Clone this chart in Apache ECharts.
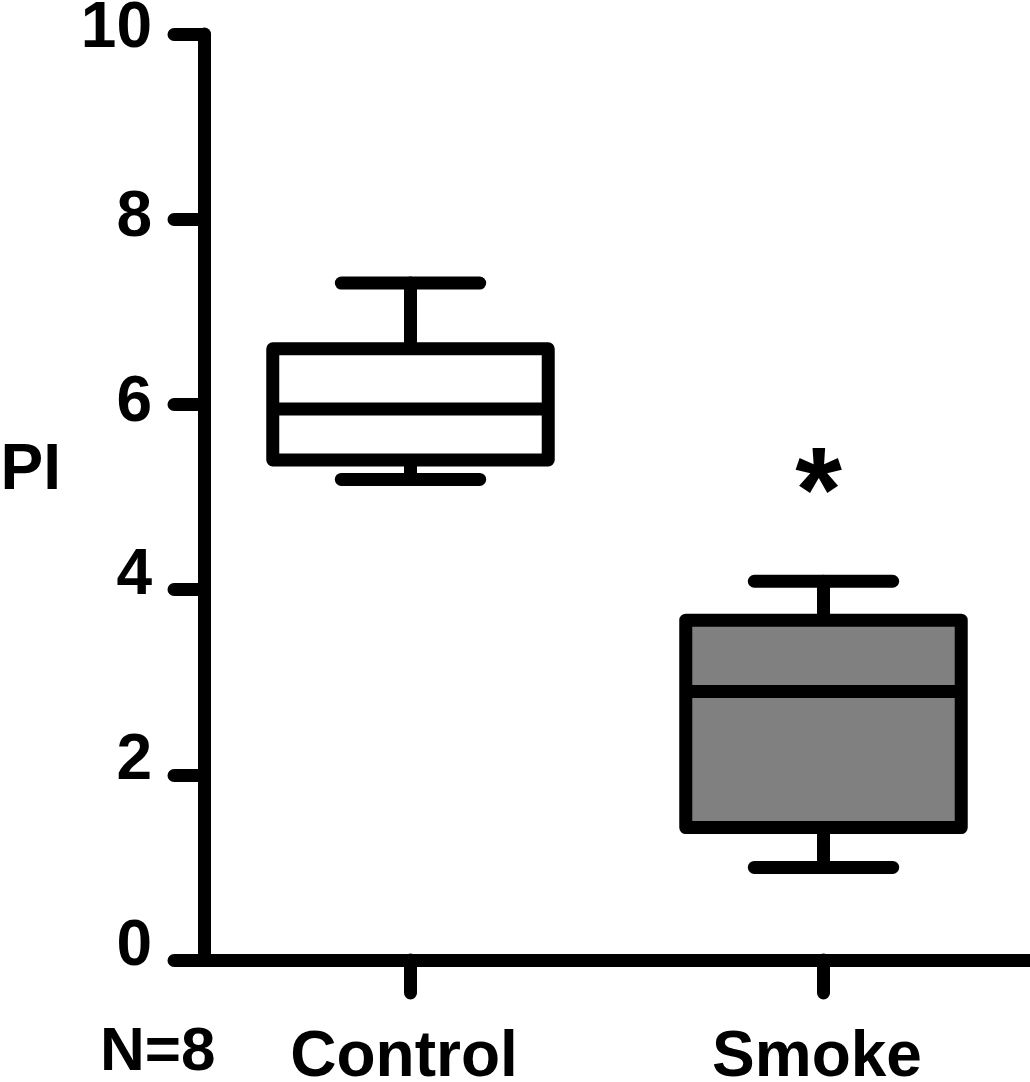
<!DOCTYPE html>
<html>
<head>
<meta charset="utf-8">
<script src="https://cdn.jsdelivr.net/npm/echarts@6/dist/echarts.min.js"></script>
<style>
html,body{margin:0;padding:0;background:#fff;}
#chart{width:1030px;height:1082px;}
</style>
</head>
<body>
<div id="chart"></div>
<script>
// ---- data ----
const categories = ['Control', 'Smoke'];
const minValues = [5.19, 1.00];
const q1Values = [5.40, 1.43];
const medianValues = [5.95, 2.90];
const q3Values = [6.60, 3.67];
const maxValues = [7.31, 4.09];
const significanceMarks = ['', '*'];
const significanceLevels = [null, 5.2];
const yTicks = [0, 2, 4, 6, 8, 10];
const sampleSizeLabel = 'N=8';
const yAxisTitle = 'PI';

// ---- styles ----
const FONT = '"Liberation Sans", Arial, Helvetica, sans-serif';
const LW = 13;
const boxFills = ['#ffffff', '#808080'];
const labelStyleByTick = { 0: 'lo', 2: 'lo', 4: 'lo', 6: 'mid', 8: 'mid', 10: 'hi' };

const chart = echarts.init(document.getElementById('chart'));

const boxData = categories.map((c, i) => [i, minValues[i], q1Values[i], medianValues[i], q3Values[i], maxValues[i]]);
const markData = [];
categories.forEach((c, i) => {
  if (significanceLevels[i] != null) markData.push({ value: [i, significanceLevels[i]], mark: significanceMarks[i] });
});

function renderBox(params, api) {
  const i = api.value(0);
  const xC = api.coord([i, 0])[0];
  const band = api.size([1, 0])[0];
  const boxW = band * 0.667;
  const capW = band * 0.335;
  const yMin = api.coord([i, api.value(1)])[1];
  const yQ1 = api.coord([i, api.value(2)])[1];
  const yMed = api.coord([i, api.value(3)])[1];
  const yQ3 = api.coord([i, api.value(4)])[1];
  const yMax = api.coord([i, api.value(5)])[1];
  const lineStyle = { stroke: '#000', lineWidth: LW, lineCap: 'round', fill: null };
  return {
    type: 'group',
    children: [
      { type: 'line', shape: { x1: xC, y1: yMax, x2: xC, y2: yQ3 }, style: lineStyle },
      { type: 'line', shape: { x1: xC, y1: yQ1, x2: xC, y2: yMin }, style: lineStyle },
      { type: 'line', shape: { x1: xC - capW / 2, y1: yMax, x2: xC + capW / 2, y2: yMax }, style: lineStyle },
      { type: 'line', shape: { x1: xC - capW / 2, y1: yMin, x2: xC + capW / 2, y2: yMin }, style: lineStyle },
      { type: 'rect', shape: { x: xC - boxW / 2, y: yQ3, width: boxW, height: yQ1 - yQ3 },
        style: { fill: boxFills[i], stroke: '#000', lineWidth: LW, lineJoin: 'round' } },
      { type: 'line', shape: { x1: xC - boxW / 2, y1: yMed, x2: xC + boxW / 2, y2: yMed },
        style: { stroke: '#000', lineWidth: LW, lineCap: 'butt' } }
    ]
  };
}

function renderMark(params, api) {
  const d = markData[params.dataIndex];
  const p = api.coord([api.value(0), api.value(1)]);
  return {
    type: 'text',
    x: p[0] - 5,
    y: p[1] + 19,
    style: {
      text: d.mark,
      fill: '#000',
      font: 'bold 120px ' + FONT,
      textAlign: 'center',
      textVerticalAlign: 'middle'
    }
  };
}

const labelFont = { color: '#000', fontSize: 64, fontWeight: 'bold', fontFamily: FONT };

chart.setOption({
  animation: false,
  backgroundColor: '#fff',
  grid: { left: 204, right: 0, top: 34, bottom: 122, containLabel: false, outerBoundsMode: 'none' },
  xAxis: {
    type: 'category',
    data: categories,
    boundaryGap: true,
    axisLine: { show: true, lineStyle: { color: '#000', width: LW, cap: 'round' } },
    axisTick: { show: true, alignWithLabel: true, length: 33, lineStyle: { color: '#000', width: LW, cap: 'round' } },
    axisLabel: {
      show: true, margin: 66,
      formatter: v => '{c|' + v + '}',
      rich: { c: Object.assign({ padding: [0, 13, 0, 0] }, labelFont) }
    },
    splitLine: { show: false }
  },
  yAxis: {
    type: 'value',
    min: yTicks[0],
    max: yTicks[yTicks.length - 1],
    interval: yTicks[1] - yTicks[0],
    name: '{p|' + yAxisTitle + '}',
    nameLocation: 'middle',
    nameRotate: 0,
    nameGap: 143,
    nameTextStyle: {
      align: 'right', verticalAlign: 'middle',
      rich: { p: Object.assign({ padding: [0, 0, 52, 0] }, labelFont) }
    },
    axisLine: { show: true, lineStyle: { color: '#000', width: LW, cap: 'round' } },
    axisTick: { show: true, length: 30, lineStyle: { color: '#000', width: LW, cap: 'round' } },
    axisLabel: {
      show: true, margin: 52,
      formatter: v => '{' + (labelStyleByTick[v] || 'mid') + '|' + v + '}',
      rich: {
        lo: Object.assign({ padding: [0, 0, 26, 0] }, labelFont),
        mid: Object.assign({ padding: [0, 0, 2, 0] }, labelFont),
        hi: Object.assign({ padding: [0, 0, 10, 0] }, labelFont)
      }
    },
    splitLine: { show: false }
  },
  graphic: [{
    type: 'text',
    left: 100,
    top: 1022,
    style: { text: sampleSizeLabel, fill: '#000', font: 'bold 62px ' + FONT }
  }],
  series: [
    {
      type: 'custom',
      renderItem: renderBox,
      encode: { x: 0, y: [1, 2, 3, 4, 5] },
      data: boxData,
      clip: false,
      z: 3
    },
    {
      type: 'custom',
      renderItem: renderMark,
      encode: { x: 0, y: 1 },
      data: markData.map(d => d.value),
      clip: false,
      z: 4
    }
  ]
});
</script>
</body>
</html>
